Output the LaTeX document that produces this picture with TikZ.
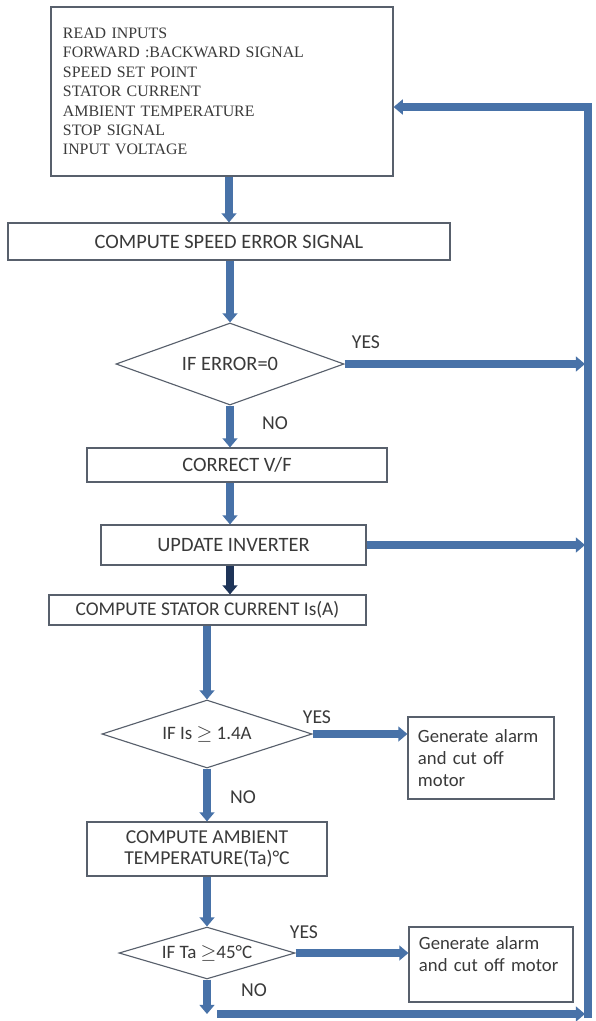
\documentclass[tikz,border=0pt]{standalone}
\usepackage{fontspec}
\setmainfont{Carlito}
\newfontfamily\readfont{Liberation Serif}
\usetikzlibrary{%
    shapes.geometric,%
    arrows.meta,%
    calc,%
    positioning%
}
\definecolor{flowblue}{RGB}{72,114,168}
\definecolor{flownavy}{RGB}{30,52,88}
\definecolor{boxline}{RGB}{88,96,108}
\definecolor{boxtext}{RGB}{58,58,58}

\begin{document}
\begin{tikzpicture}[x=0.025cm, y=-0.025cm,
	box/.style={draw=boxline, line width=0.8pt, fill=white, text=boxtext, inner sep=0pt, font=\fontsize{14.5}{17}\selectfont},
	decision/.style={diamond, draw=boxline, line width=0.8pt, fill=white, text=boxtext, inner sep=0pt, aspect=2.5, font=\fontsize{14.5}{17}\selectfont},
	alarm/.style={box, align=left, inner xsep=0.25cm, font=\fontsize{13.3}{15.5}\selectfont},
	flow/.style={flowblue, line width=5pt, -{Triangle[length=6.5pt, width=10.5pt]}},
	answer/.style={text=boxtext, font=\fontsize{14}{16}\selectfont}
]

				\useasboundingbox[fill=white] (0,0) rectangle (595,1021);

				% main column
				\node[box, minimum width=8.55cm, minimum height=4.225cm, align=left, text width=7.95cm, inner xsep=0.3cm,
					font=\readfont\fontsize{11.3}{13.8}\selectfont] (readbox) at (222,91.5)
					{READ INPUTS\\FORWARD :BACKWARD SIGNAL\\SPEED SET POINT\\STATOR CURRENT\\AMBIENT TEMPERATURE\\STOP SIGNAL\\INPUT VOLTAGE};
				\node[box, minimum width=11.05cm, minimum height=0.925cm] (speedbox) at (229,241.5) {COMPUTE SPEED ERROR SIGNAL};
				\node[decision, minimum width=5.7cm, minimum height=2.05cm] (errdec) at (230,364) {IF ERROR=0};
				\node[box, minimum width=7.5cm, minimum height=0.85cm] (vfbox) at (237,465) {CORRECT V/F};
				\node[box, minimum width=6.625cm, minimum height=1cm] (invbox) at (233.5,545) {UPDATE INVERTER};
				\node[box, minimum width=7.925cm, minimum height=0.75cm, font=\fontsize{13.8}{16}\selectfont] (isbox) at (207.5,610) {COMPUTE STATOR CURRENT Is(A)};
				\node[decision, minimum width=5.25cm, minimum height=1.7cm, font=\fontsize{13.5}{16}\selectfont] (isdec) at (207,734) {IF Is $\geq$ 1.4A};
				\node[box, minimum width=6cm, minimum height=1.35cm, align=center, font=\fontsize{14}{15}\selectfont] (tabox) at (207,849) {COMPUTE AMBIENT\\TEMPERATURE(Ta)°C};
				\node[decision, minimum width=4.4cm, minimum height=1.25cm, font=\fontsize{13.5}{16}\selectfont] (tadec) at (207,953) {IF Ta $\geq$45°C};

				% alarm boxes
				\node[alarm, minimum width=3.65cm, minimum height=2.05cm, text width=3.15cm] (alarmA) at (481,758) {Generate alarm\\and cut off\\motor};
				\node[alarm, minimum width=4.1cm, minimum height=1.875cm, text width=3.6cm] (alarmB) at (491,964.5) {Generate alarm\\and cut off motor\\~};

				% return line
				\coordinate (fbtop) at (588,107);
				\coordinate (fbbot) at (588,1018);
				\coordinate (rline) at (585,0);
				\coordinate (loopin) at (217,1014);

				\draw[flow] (speedbox.north |- readbox.south) -- (speedbox.north);
				\draw[flow] (errdec.north |- speedbox.south) -- (errdec.north);
				\draw[flow] (errdec.east) -- (errdec.east -| rline);
				\draw[flow] (errdec.south) -- (errdec.south |- vfbox.north);
				\draw[flow] (errdec.south |- vfbox.south) -- (errdec.south |- invbox.north);
				\draw[flow] (invbox.east) -- (invbox.east -| rline);
				\draw[flow, flownavy] (errdec.south |- invbox.south) -- (errdec.south |- isbox.north);
				\draw[flow] (isdec.north |- isbox.south) -- (isdec.north);
				\draw[flow] (isdec.east) -- (isdec.east -| alarmA.west);
				\draw[flow] (isdec.south) -- (tabox.north);
				\draw[flow] (tabox.south) -- (tadec.north);
				\draw[flow] (tadec.east) -- (tadec.east -| alarmB.west);
				\draw[flow] (tadec.south) -- (tadec.south |- loopin);
				\draw[flow] (loopin) -- (loopin -| rline);
				\draw[flow, line join=miter] (fbbot) -- (fbtop) -- (readbox.east |- fbtop);

				\node[answer] (yes1) at (366,342) {YES};
				\node[answer] (no1) at (275,423) {NO};
				\node[answer] (yes2) at (317,717) {YES};
				\node[answer] (no2) at (243,797) {NO};
				\node[answer] (yes3) at (304,932) {YES};
				\node[answer] (no3) at (254,990) {NO};
\end{tikzpicture}
\end{document}
